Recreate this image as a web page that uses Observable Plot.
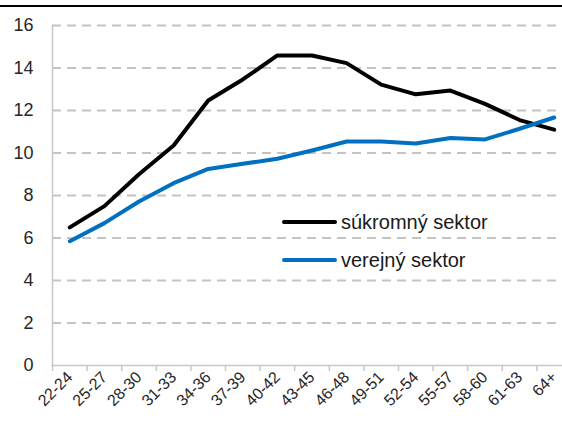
<!DOCTYPE html>
<html>
<head>
<meta charset="utf-8">
<script src="https://cdn.jsdelivr.net/npm/d3@7"></script>
<script src="https://cdn.jsdelivr.net/npm/@observablehq/plot@0.6"></script>
<style>
  html, body { margin: 0; padding: 0; background: #fff; }
  #wrap { position: relative; width: 562px; height: 425px; overflow: hidden; font-family: "Liberation Sans", Arial, sans-serif; }
  #topline { position: absolute; left: 0; top: 4.5px; width: 562px; height: 2px; background: #000; }
  .leg { position: absolute; left: 282px; display: flex; align-items: center; font-size: 20px; color: #1a1a1a; line-height: 20px; }
  .leg .sw { width: 55px; height: 4px; border-radius: 2px; margin-right: 4px; }
</style>
</head>
<body>
<div id="wrap">
  <div id="chart"></div>
  <div id="topline"></div>
  <div id="legend"></div>
</div>
<script>
const categories = ["22-24","25-27","28-30","31-33","34-36","37-39","40-42","43-45","46-48","49-51","52-54","55-57","58-60","61-63","64+"];
const seriesNames = ["súkromný sektor", "verejný sektor"];
const privateSector = [6.5, 7.5, 9.0, 10.35, 12.47, 13.46, 14.59, 14.59, 14.23, 13.22, 12.76, 12.94, 12.31, 11.55, 11.1];
const publicSector  = [5.85, 6.7, 7.72, 8.58, 9.25, 9.49, 9.73, 10.12, 10.54, 10.54, 10.45, 10.71, 10.64, 11.14, 11.67];
const yTicks = [0, 2, 4, 6, 8, 10, 12, 14, 16];
const colors = ["#000000", "#0070c0"];

const data = [];
categories.forEach((c, i) => {
  data.push({cat: c, value: privateSector[i], series: seriesNames[0]});
  data.push({cat: c, value: publicSector[i], series: seriesNames[1]});
});

const bw = (571 - 52) / categories.length;

const plot = Plot.plot({
  width: 562,
  height: 425,
  marginTop: 25,
  marginBottom: 60,
  marginLeft: 52,
  marginRight: 0,
  style: {fontFamily: "'Liberation Sans', Arial, sans-serif", background: "#fff"},
  x: {type: "band", domain: categories, range: [52, 571], padding: 0, round: false},
  y: {domain: [0, 16], ticks: yTicks},
  color: {domain: seriesNames, range: colors},
  marks: [
    Plot.ruleY(yTicks.filter(d => d > 0), {stroke: "#c4c4c4", strokeWidth: 2, strokeDasharray: "9,6"}),
    Plot.frame({anchor: "left", stroke: "#c8c8c8", strokeWidth: 1.5}),
    Plot.frame({anchor: "bottom", stroke: "#c8c8c8", strokeWidth: 1.5}),
    Plot.axisX({tickSize: 6, tickFormat: () => "", dx: -bw / 2, stroke: "#c8c8c8", strokeWidth: 1.5, label: null}),
    Plot.axisX({tickSize: 0, tickRotate: -45, tickPadding: 9, fontSize: 16, fill: "#262626", label: null}),
    Plot.axisY({ticks: yTicks, tickSize: 0, tickPadding: 19, fontSize: 18, fill: "#262626", label: null}),
    Plot.line(data, {x: "cat", y: "value", z: "series", stroke: "series", strokeWidth: 4, strokeLinejoin: "round", strokeLinecap: "round"})
  ]
});
document.getElementById("chart").appendChild(plot);

const legend = document.getElementById("legend");
const legendTops = [212, 250];
seriesNames.forEach((name, i) => {
  const row = document.createElement("div");
  row.className = "leg";
  row.style.top = legendTops[i] + "px";
  const sw = document.createElement("span");
  sw.className = "sw";
  sw.style.background = colors[i];
  const tx = document.createElement("span");
  tx.textContent = name;
  row.appendChild(sw);
  row.appendChild(tx);
  legend.appendChild(row);
});
</script>
</body>
</html>
